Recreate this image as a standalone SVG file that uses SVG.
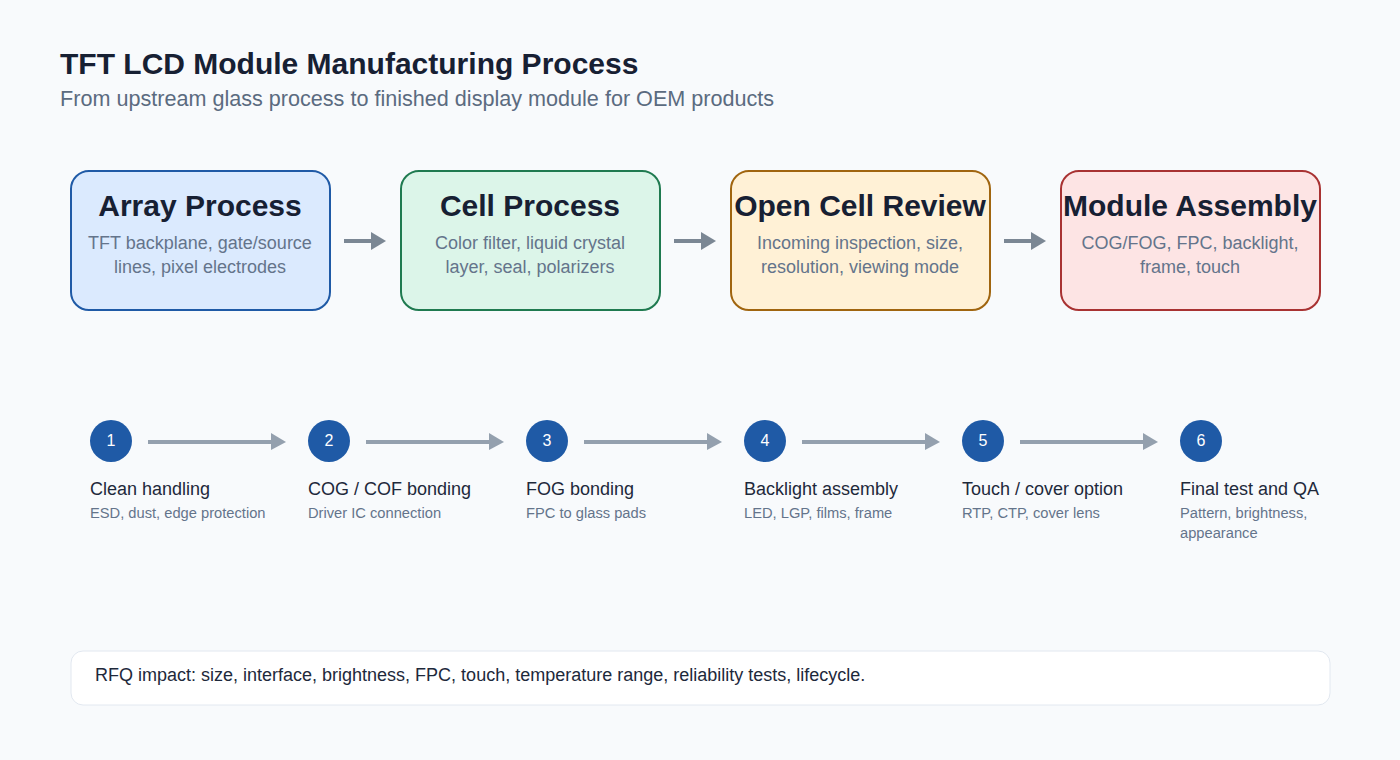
<svg xmlns="http://www.w3.org/2000/svg" width="1400" height="760" viewBox="0 0 1400 760">
<style>
text{font-family:"Liberation Sans",Arial,sans-serif}
.title{font-size:30px;font-weight:bold;fill:#172033}
.sub{font-size:21.6px;fill:#5b6b80}
.box{stroke-width:2}
.bt{font-size:30px;font-weight:bold;fill:#172033;text-anchor:middle}
.bd{font-size:18px;fill:#64748b;text-anchor:middle}
.num{font-size:16px;fill:#ffffff;text-anchor:middle}
.st{font-size:18px;fill:#1e293b}
.sd{font-size:14.7px;fill:#64748b}
.ca{stroke:#7b8794;stroke-width:4;fill:none}
.cah{fill:#7b8794}
.sa{stroke:#94a0ae;stroke-width:4;fill:none}
.sah{fill:#94a0ae}
</style>
<rect x="0" y="0" width="1400" height="760" fill="#f8fafc"/>
<text class="title" x="60" y="74">TFT LCD Module Manufacturing Process</text>
<text class="sub" x="60" y="106">From upstream glass process to finished display module for OEM products</text>

<g id="connectors">
<line class="ca" x1="344" y1="241" x2="372" y2="241"/><polygon class="cah" points="371,232 386,241 371,250"/>
<line class="ca" x1="674" y1="241" x2="702" y2="241"/><polygon class="cah" points="701,232 716,241 701,250"/>
<line class="ca" x1="1004" y1="241" x2="1032" y2="241"/><polygon class="cah" points="1031,232 1046,241 1031,250"/>
<line class="sa" x1="148" y1="442" x2="273" y2="442"/><polygon class="sah" points="271,433 286,442 271,450"/>
<line class="sa" x1="366" y1="442" x2="491" y2="442"/><polygon class="sah" points="489,433 504,442 489,450"/>
<line class="sa" x1="584" y1="442" x2="709" y2="442"/><polygon class="sah" points="707,433 722,442 707,450"/>
<line class="sa" x1="802" y1="442" x2="927" y2="442"/><polygon class="sah" points="925,433 940,442 925,450"/>
<line class="sa" x1="1020" y1="442" x2="1145" y2="442"/><polygon class="sah" points="1143,433 1158,442 1143,450"/>
</g>

<g id="array">
<rect class="box" x="71" y="171" width="259" height="139" rx="18" fill="#dbeafe" stroke="#1f5aa6"/>
<text class="bt" x="200" y="216">Array Process</text>
<text class="bd" x="200" y="249">TFT backplane, gate/source</text>
<text class="bd" x="200" y="273">lines, pixel electrodes</text>
</g>
<g id="cell">
<rect class="box" x="401" y="171" width="259" height="139" rx="18" fill="#dcf5e9" stroke="#1f7a50"/>
<text class="bt" x="530" y="216">Cell Process</text>
<text class="bd" x="530" y="249">Color filter, liquid crystal</text>
<text class="bd" x="530" y="273">layer, seal, polarizers</text>
</g>
<g id="opencell">
<rect class="box" x="731" y="171" width="259" height="139" rx="18" fill="#fff1d6" stroke="#a0650f"/>
<text class="bt" x="860" y="216">Open Cell Review</text>
<text class="bd" x="860" y="249">Incoming inspection, size,</text>
<text class="bd" x="860" y="273">resolution, viewing mode</text>
</g>
<g id="module">
<rect class="box" x="1061" y="171" width="259" height="139" rx="18" fill="#fde4e4" stroke="#a83232"/>
<text class="bt" x="1190" y="216">Module Assembly</text>
<text class="bd" x="1190" y="249">COG/FOG, FPC, backlight,</text>
<text class="bd" x="1190" y="273">frame, touch</text>
</g>

<g id="step1">
<circle cx="111" cy="441" r="21" fill="#1f5aa6"/>
<text class="num" x="111" y="446">1</text>
<text class="st" x="90" y="495">Clean handling</text>
<text class="sd" x="90" y="518">ESD, dust, edge protection</text>
</g>
<g id="step2">
<circle cx="329" cy="441" r="21" fill="#1f5aa6"/>
<text class="num" x="329" y="446">2</text>
<text class="st" x="308" y="495">COG / COF bonding</text>
<text class="sd" x="308" y="518">Driver IC connection</text>
</g>
<g id="step3">
<circle cx="547" cy="441" r="21" fill="#1f5aa6"/>
<text class="num" x="547" y="446">3</text>
<text class="st" x="526" y="495">FOG bonding</text>
<text class="sd" x="526" y="518">FPC to glass pads</text>
</g>
<g id="step4">
<circle cx="765" cy="441" r="21" fill="#1f5aa6"/>
<text class="num" x="765" y="446">4</text>
<text class="st" x="744" y="495">Backlight assembly</text>
<text class="sd" x="744" y="518">LED, LGP, films, frame</text>
</g>
<g id="step5">
<circle cx="983" cy="441" r="21" fill="#1f5aa6"/>
<text class="num" x="983" y="446">5</text>
<text class="st" x="962" y="495">Touch / cover option</text>
<text class="sd" x="962" y="518">RTP, CTP, cover lens</text>
</g>
<g id="step6">
<circle cx="1201" cy="441" r="21" fill="#1f5aa6"/>
<text class="num" x="1201" y="446">6</text>
<text class="st" x="1180" y="495">Final test and QA</text>
<text class="sd" x="1180" y="518">Pattern, brightness,</text>
<text class="sd" x="1180" y="538">appearance</text>
</g>

<g id="rfq">
<rect x="71" y="651" width="1259" height="54" rx="12" fill="#ffffff" stroke="#e2e8f0" stroke-width="1"/>
<text x="95" y="681" font-size="18" fill="#1e293b">RFQ impact: size, interface, brightness, FPC, touch, temperature range, reliability tests, lifecycle.</text>
</g>
</svg>
